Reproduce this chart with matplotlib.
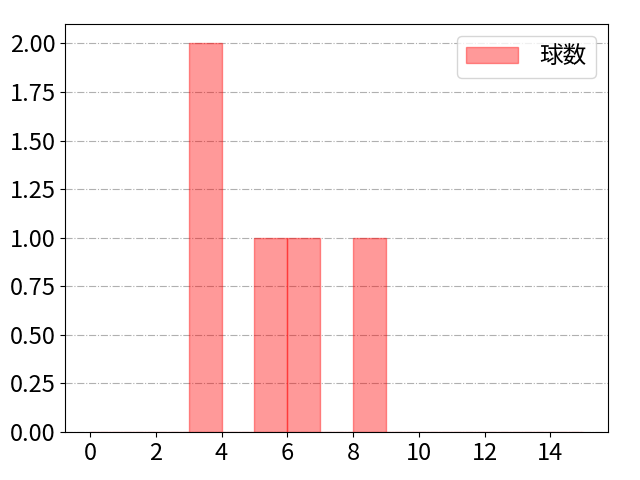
import matplotlib
matplotlib.use('Agg')
import matplotlib.pyplot as plt
import numpy as np

plt.rcParams['font.family'] = ['Noto Sans CJK JP', 'DejaVu Sans']

# pitch count histogram: bin edges and counts per bin
bin_edges = list(range(0, 16))
counts = [0, 0, 0, 2, 0, 1, 1, 0, 1, 0, 0, 0, 0, 0, 0]
label = '球数'

fig, ax = plt.subplots(figsize=(6.4, 4.8), dpi=100)
fig.subplots_adjust(left=0.102, right=0.95, top=0.95, bottom=0.1)

ax.hist(bin_edges[:-1], bins=bin_edges, weights=counts,
        color='red', alpha=0.4, edgecolor='red', linewidth=1, label=label)

ax.grid(axis='y', linestyle='-.', color='#b0b0b0', linewidth=0.8)
ax.set_axisbelow(True)
ax.tick_params(labelsize=17)
ax.xaxis.set_major_locator(matplotlib.ticker.MultipleLocator(2))
ax.yaxis.set_major_locator(matplotlib.ticker.MultipleLocator(0.25))
ax.yaxis.set_major_formatter(matplotlib.ticker.FormatStrFormatter('%.2f'))
ax.legend(loc='upper right', fontsize=17, handlelength=2.2, handletextpad=0.9)

fig.savefig('out.png')
